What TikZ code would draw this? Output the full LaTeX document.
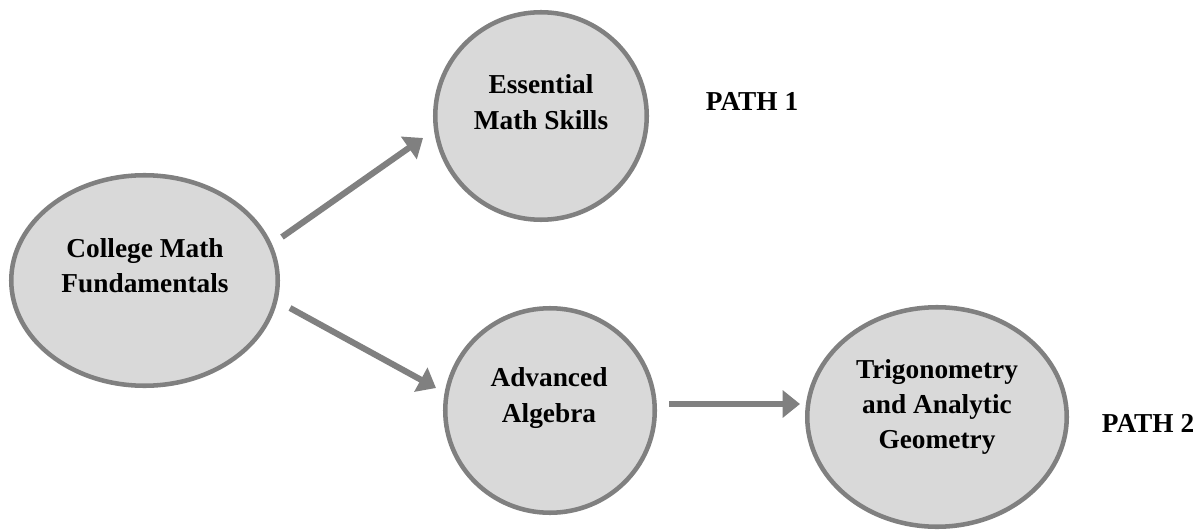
\documentclass[tikz,border=0pt]{standalone}
\usepackage{fontspec}
\setmainfont{Liberation Serif}
\usetikzlibrary{shapes.geometric,arrows.meta}
\definecolor{rim}{HTML}{808080}
\definecolor{disc}{HTML}{D9D9D9}
\begin{document}
\begin{tikzpicture}[x=0.75pt,y=-0.75pt,
  topic/.style={ellipse,draw=rim,fill=disc,line width=3.4pt,inner sep=0pt},
  caption/.style={align=center,inner sep=0pt,
    font=\fontsize{20.5}{26.5}\selectfont\bfseries},
  flow/.style={draw=rim,line width=4.6pt,
    -{Triangle[length=13pt,width=20pt]}}]
\useasboundingbox[fill=white] (0,0) rectangle (1202,531);

% course circles (sizes given in pixels of 0.75pt)
\node[topic,minimum width=266.5*0.75pt,minimum height=210.5*0.75pt] (cmf) at (144.5,280.5) {};
\node[topic,minimum width=211.5*0.75pt,minimum height=207.5*0.75pt] (ems) at (541,116) {};
\node[topic,minimum width=209.5*0.75pt,minimum height=204.5*0.75pt] (aa) at (550,410.5) {};
\node[topic,minimum width=259.5*0.75pt,minimum height=219.5*0.75pt] (tag) at (937,417) {};

% course titles
\node[caption] (cmft) at (145,266) {College Math\\Fundamentals};
\node[caption] (emst) at (541,102) {Essential\\Math Skills};
\node[caption] (aat) at (549,398) {Advanced\\Algebra};
\node[caption] (tagt) at (937,407) {Trigonometry\\and Analytic\\Geometry};

% path labels
\node[caption] (p1) at (752,101) {PATH 1};
\node[caption] (p2) at (1148,423) {PATH 2};

% arrow end points
\coordinate (a1s) at (282,237);
\coordinate (a1e) at (423,138);
\coordinate (a2s) at (290,308);
\coordinate (a2e) at (436,388);
\coordinate (a3s) at (669,404);
\coordinate (a3e) at (800,404);

\draw[flow] (a1s) -- (a1e);
\draw[flow] (a2s) -- (a2e);
\draw[flow] (a3s) -- (a3e);
\end{tikzpicture}
\end{document}
